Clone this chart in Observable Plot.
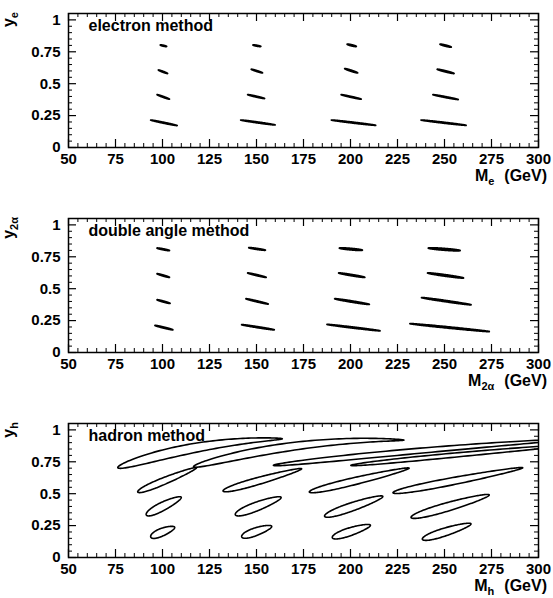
<!DOCTYPE html>
<html><head><meta charset="utf-8">
<script src="https://cdn.jsdelivr.net/npm/d3@7"></script>
<script src="https://cdn.jsdelivr.net/npm/@observablehq/plot@0.6"></script>
<style>
body{margin:0;background:#fff;}
#chart{width:553px;}
#chart svg{display:block;}
</style></head><body><div id="chart"></div>
<script>
// ---------- tick values / labels ----------
const xTicks = [50, 75, 100, 125, 150, 175, 200, 225, 250, 275, 300];
const xTickLabels = ["50", "75", "100", "125", "150", "175", "200", "225", "250", "275", "300"];
const yTicks = [0, 0.25, 0.5, 0.75, 1];
const yTickLabels = ["0", "0.25", "0.5", "0.75", "1"];
const panelTitles = ["electron method", "double angle method", "hadron method"];
const ySymbols = ["y", "y", "y"];
const ySubs = ["e", "2\u03b1", "h"];
const xSymbols = ["M", "M", "M"];
const xSubs = ["e", "2\u03b1", "h"];
const unitText = "(GeV)";

// ---------- electron method contours (tips x1,y1 -> x2,y2; half-thickness h) ----------
const elecX1 = [98.8, 148.1, 198.2, 247.6, 97.8, 147.2, 196.9, 246.1, 97.1, 145.3, 195.0, 243.8, 93.7, 141.6, 189.8, 237.5];
const elecY1 = [0.803, 0.803, 0.809, 0.809, 0.607, 0.613, 0.618, 0.613, 0.414, 0.414, 0.414, 0.414, 0.215, 0.215, 0.215, 0.215];
const elecX2 = [102.2, 152.3, 203.1, 253.6, 102.7, 153.2, 203.8, 255.1, 103.7, 154.3, 205.7, 257.3, 107.8, 159.9, 213.4, 261.5];
const elecY2 = [0.792, 0.792, 0.792, 0.787, 0.580, 0.585, 0.585, 0.580, 0.379, 0.384, 0.379, 0.376, 0.172, 0.177, 0.174, 0.174];
const elecH  = [0.004, 0.004, 0.005, 0.005, 0.004, 0.004, 0.005, 0.005, 0.004, 0.004, 0.004, 0.004, 0.004, 0.004, 0.004, 0.004];

// ---------- double angle method contours ----------
const daX1 = [97.1, 145.9, 194.1, 241.4, 97.1, 145.3, 193.7, 241.0, 97.1, 144.4, 191.6, 237.8, 96.0, 142.1, 187.5, 231.6];
const daY1 = [0.818, 0.821, 0.818, 0.818, 0.617, 0.623, 0.623, 0.623, 0.413, 0.421, 0.421, 0.430, 0.212, 0.218, 0.220, 0.226];
const daX2 = [103.7, 154.7, 206.3, 258.3, 103.7, 155.1, 207.6, 260.1, 104.0, 156.2, 210.0, 264.1, 105.5, 159.4, 215.7, 273.8];
const daY2 = [0.799, 0.802, 0.802, 0.799, 0.589, 0.589, 0.589, 0.584, 0.385, 0.380, 0.377, 0.374, 0.178, 0.178, 0.170, 0.164];
const daH  = [0.004, 0.004, 0.006, 0.007, 0.004, 0.004, 0.005, 0.006, 0.004, 0.004, 0.005, 0.005, 0.004, 0.004, 0.004, 0.005];

// ---------- hadron method contours (spine through tip, optional mid point, tip) ----------
const hadX1 = [93.7, 142.1, 190.3, 238.2, 91.3, 138.7, 186.2, 232.2, 86.8, 132.2, 178.1, 222.6, 76.2, 116.5, 159.0, 200.2];
const hadY1 = [0.165, 0.165, 0.158, 0.145, 0.338, 0.338, 0.325, 0.315, 0.515, 0.522, 0.514, 0.508, 0.705, 0.712, 0.722, 0.722];
const hadXm = [null, null, null, null, null, null, null, null, null, null, null, null, 106, 150, 210, 250];
const hadYm = [null, null, null, null, null, null, null, null, null, null, null, null, 0.825, 0.825, 0.800, 0.795];
const hadX2 = [106.5, 158.1, 210.6, 264.1, 110.0, 163.1, 217.2, 273.8, 118.1, 174.0, 231.2, 291.6, 163.7, 228.4, 315, 320];
const hadY2 = [0.235, 0.243, 0.252, 0.263, 0.470, 0.470, 0.478, 0.490, 0.703, 0.695, 0.700, 0.703, 0.930, 0.920, 0.925, 0.885];
const hadH  = [0.032, 0.032, 0.032, 0.032, 0.036, 0.036, 0.034, 0.034, 0.028, 0.028, 0.028, 0.028, 0.035, 0.030, 0.020, 0.016];
const hadTaper = [0.2, 0.2, 0.2, 0.2, 0.2, 0.2, 0.2, 0.2, 0.3, 0.3, 0.3, 0.3, 0.5, 0.5, 0.3, 0.3];

// ---------- geometry helpers ----------
function outline(id, x1, y1, x2, y2, xm, ym, h, taper) {
  const spine = (xm == null)
    ? (x => y1 + (y2 - y1) * (x - x1) / (x2 - x1))
    : (x => y1 * ((x - xm) * (x - x2)) / ((x1 - xm) * (x1 - x2))
          + ym * ((x - x1) * (x - x2)) / ((xm - x1) * (xm - x2))
          + y2 * ((x - x1) * (x - xm)) / ((x2 - x1) * (x2 - xm)));
  const mx = (x1 + x2) / 2, ax = (x2 - x1) / 2, pts = [];
  const N = 160;
  for (let k = 0; k <= N; k++) {
    const t = 2 * Math.PI * k / N, u = Math.cos(t), v = Math.sin(t);
    const x = mx + u * ax;
    pts.push({id, x, y: spine(x) + h * v * (1 - taper * u)});
  }
  return pts;
}
function contours(X1, Y1, X2, Y2, H, XM, YM, T) {
  return X1.flatMap((_, i) => outline(i, X1[i], Y1[i], X2[i], Y2[i],
    XM ? XM[i] : null, YM ? YM[i] : null, H[i], T ? T[i] : 0));
}

const FONT = "'Liberation Sans', Arial, Helvetica, sans-serif";
const W = 553, ML = 68, MR = 15, FH = 134, FW = W - ML - MR;
const minorX = d3.range(50, 301, 5).filter(d => d % 25 !== 0);
const minorY = d3.range(0, 1.001, 0.05).map(d => +d.toFixed(2)).filter(d => Math.abs(d * 4 - Math.round(d * 4)) > 1e-6);

function panel(idx, pts, height, marginTop, lineWidth) {
  const marginBottom = height - marginTop - FH;
  const svg = Plot.plot({
    width: W, height, marginLeft: ML, marginRight: MR, marginTop, marginBottom,
    x: {domain: [50, 300]},
    y: {domain: [0, 1.05]},
    style: {fontFamily: FONT, color: "black", background: "white", overflow: "visible"},
    marks: [
      Plot.tickX(minorX, {x: d => d, insetTop: FH - 4, stroke: "black", strokeWidth: 1}),
      Plot.tickX(xTicks, {x: d => d, insetTop: FH - 8, stroke: "black", strokeWidth: 1.2}),
      Plot.tickX(minorX, {x: d => d, insetBottom: FH - 4, stroke: "black", strokeWidth: 1}),
      Plot.tickX(xTicks, {x: d => d, insetBottom: FH - 8, stroke: "black", strokeWidth: 1.2}),
      Plot.tickY(minorY, {y: d => d, insetRight: FW - 4, stroke: "black", strokeWidth: 1}),
      Plot.tickY(yTicks, {y: d => d, insetRight: FW - 8, stroke: "black", strokeWidth: 1.2}),
      Plot.tickY(minorY, {y: d => d, insetLeft: FW - 4, stroke: "black", strokeWidth: 1}),
      Plot.tickY(yTicks, {y: d => d, insetLeft: FW - 8, stroke: "black", strokeWidth: 1.2}),
      Plot.axisX({ticks: xTicks, tickSize: 0, tickPadding: 6, label: null,
        tickFormat: d => xTickLabels[xTicks.indexOf(d)], fontSize: 15, fontWeight: "bold", fill: "black"}),
      Plot.axisY({ticks: yTicks, tickSize: 0, tickPadding: 8, label: null,
        tickFormat: d => yTickLabels[yTicks.indexOf(d)], fontSize: 15, fontWeight: "bold", fill: "black"}),
      Plot.line(pts, {x: "x", y: "y", z: "id", stroke: "black", strokeWidth: lineWidth,
        strokeLinejoin: "round", clip: true}),
      Plot.text([panelTitles[idx]], {text: d => d, frameAnchor: "top-left", dx: 20, dy: 6,
        textAnchor: "start", lineAnchor: "top", fontSize: 16, fontWeight: "bold", fill: "black"}),
      Plot.frame({stroke: "black", strokeWidth: 1.5})
    ]
  });
  const s = d3.select(svg);
  const yt = s.append("text")
    .attr("transform", `translate(14,${marginTop - 1}) rotate(-90)`)
    .attr("text-anchor", "end")
    .style("font", `bold 16px ${FONT}`).attr("fill", "black");
  yt.append("tspan").text(ySymbols[idx]);
  yt.append("tspan").attr("dy", 4).style("font-size", "11px").text(ySubs[idx]);
  const xt = s.append("text")
    .attr("x", W - 6).attr("y", marginTop + FH + 33.5)
    .attr("text-anchor", "end")
    .style("font", `bold 16px ${FONT}`).attr("fill", "black");
  xt.append("tspan").text(xSymbols[idx]);
  xt.append("tspan").attr("dy", 4).style("font-size", "11px").text(xSubs[idx]);
  xt.append("tspan").attr("dy", -4).attr("dx", 10).text(unitText);
  return svg;
}

const chart = document.getElementById("chart");
chart.appendChild(panel(0, contours(elecX1, elecY1, elecX2, elecY2, elecH), 204, 13, 1.7));
chart.appendChild(panel(1, contours(daX1, daY1, daX2, daY2, daH), 202, 14, 1.8));
chart.appendChild(panel(2, contours(hadX1, hadY1, hadX2, hadY2, hadH, hadXm, hadYm, hadTaper), 192, 17, 1.6));
</script>
</body></html>
